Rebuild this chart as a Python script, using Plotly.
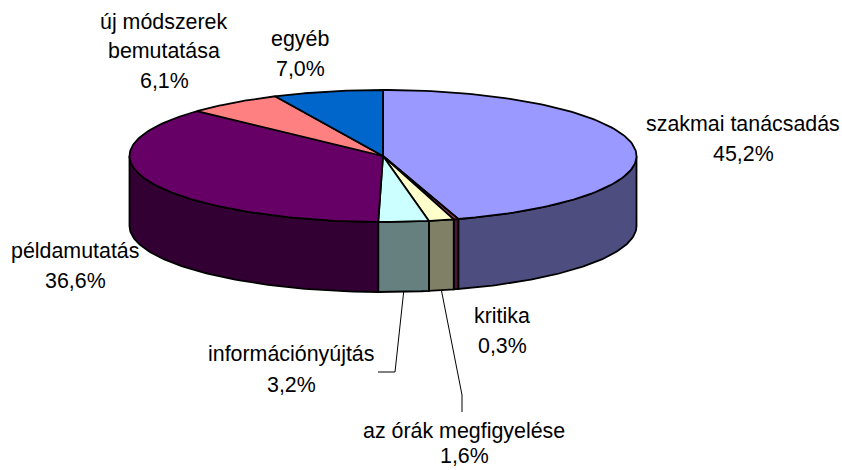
import numpy as np
import plotly.graph_objects as go

categories = ["szakmai tanácsadás", "kritika", "az órák megfigyelése", "információnyújtás",
              "példamutatás", "új módszerek bemutatása", "egyéb"]
values = [45.2, 0.3, 1.6, 3.2, 36.6, 6.1, 7.0]
top_colors = ["#9999FF", "#993366", "#FFFFCC", "#CCFFFF", "#660066", "#FF8080", "#0066CC"]
side_colors = ["#4D4D80", "#4D1A33", "#808066", "#668080", "#330033", "#804040", "#003366"]

CX, CY, RX, RY, DEPTH = 383, 156, 253.5, 66, 70
FS = 21.4
LINE = "#000000"
LW = 1.8

def pt(t_deg, dy=0):
    t = np.radians(t_deg)
    return CX + RX * np.sin(t), CY - RY * np.cos(t) + dy

edges = np.cumsum([0] + values) / sum(values) * 360
fig = go.Figure()

def poly(xs, ys, color):
    fig.add_trace(go.Scatter(x=list(xs), y=list(ys), mode="lines", fill="toself", fillcolor=color,
                             line=dict(color=LINE, width=LW), hoverinfo="skip", showlegend=False))

# side walls (visible front half only)
for i in range(len(values)):
    a, b = max(edges[i], 90), min(edges[i + 1], 270)
    if b <= a:
        continue
    ts = np.linspace(a, b, 80)
    x1, y1 = pt(ts)
    x2, y2 = pt(ts[::-1], DEPTH)
    poly(np.r_[x1, x2, x1[0]], np.r_[y1, y2, y1[0]], side_colors[i])

# top faces
for i in range(len(values)):
    ts = np.linspace(edges[i], edges[i + 1], 120)
    x, y = pt(ts)
    poly(np.r_[CX, x, CX], np.r_[CY, y, CY], top_colors[i])

# leader lines, starting at the slice mid-angle on the lower rim
def leader(i, elbow_pts):
    m = (edges[i] + edges[i + 1]) / 2
    sx, sy = pt(m, DEPTH)
    xs = [sx] + [p[0] for p in elbow_pts]
    ys = [sy] + [p[1] for p in elbow_pts]
    fig.add_trace(go.Scatter(x=xs, y=ys, mode="lines", line=dict(color=LINE, width=1),
                             hoverinfo="skip", showlegend=False))

leader(3, [(395, 372), (378, 372)])
leader(2, [(462, 395), (462, 412)])

# labels: (lines of category text, centre x, y of each line)
label_lines = {
    0: (["szakmai tanácsadás"], 743, [124, 154]),
    1: (["kritika"], 502, [316, 346]),
    2: (["az órák megfigyelése"], 464, [431, 456]),
    3: (["információnyújtás"], 291, [354, 385]),
    4: (["példamutatás"], 75, [251, 281]),
    5: (["új módszerek", "bemutatása"], 164, [22, 51, 81]),
    6: (["egyéb"], 300, [39, 69]),
}
annotations = []
for i, (lines, cx, ys) in label_lines.items():
    pct = f"{values[i]:.1f}%".replace(".", ",")
    for txt, y in zip(lines + [pct], ys):
        annotations.append(dict(x=cx, y=y, text=txt, showarrow=False, xanchor="center", yanchor="middle",
                                font=dict(family="Liberation Sans", size=FS, color="#000000")))

fig.update_layout(
    width=842, height=470, margin=dict(l=0, r=0, t=0, b=0),
    paper_bgcolor="#FFFFFF", plot_bgcolor="#FFFFFF", showlegend=False,
    xaxis=dict(range=[0, 842], visible=False, fixedrange=True),
    yaxis=dict(range=[470, 0], visible=False, fixedrange=True),
    annotations=annotations,
)
fig.write_html("out.html", config=dict(displayModeBar=False), default_width="842px", default_height="470px",
               full_html=True, include_plotlyjs=True,
               post_script="document.body.style.margin='0';")
